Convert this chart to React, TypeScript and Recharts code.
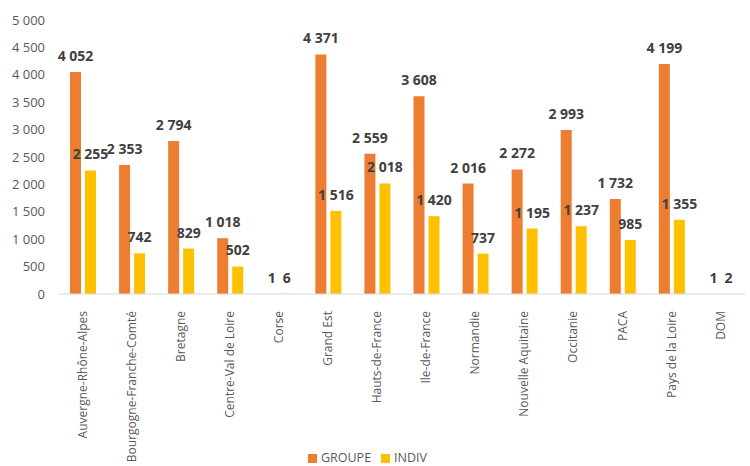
import React from 'react';
import { BarChart, Bar, XAxis, YAxis, Legend, LabelList } from 'recharts';

const regions = [
  'Auvergne-Rhône-Alpes',
  'Bourgogne-Franche-Comté',
  'Bretagne',
  'Centre-Val de Loire',
  'Corse',
  'Grand Est',
  'Hauts-de-France',
  'Ile-de-France',
  'Normandie',
  'Nouvelle Aquitaine',
  'Occitanie',
  'PACA',
  'Pays de la Loire',
  'DOM',
];
const groupe = [4052, 2353, 2794, 1018, 1, 4371, 2559, 3608, 2016, 2272, 2993, 1732, 4199, 1];
const indiv = [2255, 742, 829, 502, 6, 1516, 2018, 1420, 737, 1195, 1237, 985, 1355, 2];
const yTicks = [0, 500, 1000, 1500, 2000, 2500, 3000, 3500, 4000, 4500, 5000];

const data = regions.map((r, i) => ({ region: r, GROUPE: groupe[i], INDIV: indiv[i] }));

const fmt = (v: number) => String(v).replace(/\B(?=(\d{3})+(?!\d))/g, ' ');

const FONT = '"Open Sans", sans-serif';

const XTick = (props: any) => {
  const { x, y, payload } = props;
  return (
    <text
      x={x}
      y={y + 9}
      transform={`rotate(-90, ${x}, ${y + 9})`}
      textAnchor="end"
      dy="0.35em"
      fill="#595959"
      fontSize={12}
      fontFamily={FONT}
    >
      {payload.value}
    </text>
  );
};

const ValueLabel = (props: any) => {
  const { x, y, width, value } = props;
  return (
    <text
      x={Number(x) + Number(width) / 2}
      y={Number(y) - 11}
      textAnchor="middle"
      fill="#404040"
      fontSize={14}
      fontWeight="bold"
      fontFamily={FONT}
    >
      {fmt(Number(value))}
    </text>
  );
};

export default function App() {
  return (
    <div style={{ position: 'absolute', left: 0, top: 0, width: 750, height: 466, background: '#fff' }}>
      <BarChart
        width={750}
        height={466}
        data={data}
        margin={{ top: 20, right: 5, left: 0, bottom: 0 }}
        barGap={4}
      >
        <XAxis
          dataKey="region"
          interval={0}
          height={140}
          tickLine={false}
          axisLine={{ stroke: '#d9d9d9' }}
          tick={<XTick />}
        />
        <YAxis
          width={58}
          domain={[0, 5000]}
          ticks={yTicks}
          tickFormatter={fmt}
          axisLine={false}
          tickLine={false}
          tickMargin={7}
          tick={{ fill: '#595959', fontSize: 13, fontFamily: FONT }}
        />
        <Legend
          verticalAlign="bottom"
          height={32}
          iconType="square"
          iconSize={9}
          wrapperStyle={{ fontFamily: FONT, fontSize: 12.5, bottom: -15 }}
          formatter={(v: string) => <span style={{ color: '#595959' }}>{v}</span>}
        />
        <Bar dataKey="GROUPE" fill="#ED7D31" barSize={11} isAnimationActive={false}>
          <LabelList dataKey="GROUPE" content={<ValueLabel />} />
        </Bar>
        <Bar dataKey="INDIV" fill="#FFC000" barSize={11} isAnimationActive={false}>
          <LabelList dataKey="INDIV" content={<ValueLabel />} />
        </Bar>
      </BarChart>
    </div>
  );
}
